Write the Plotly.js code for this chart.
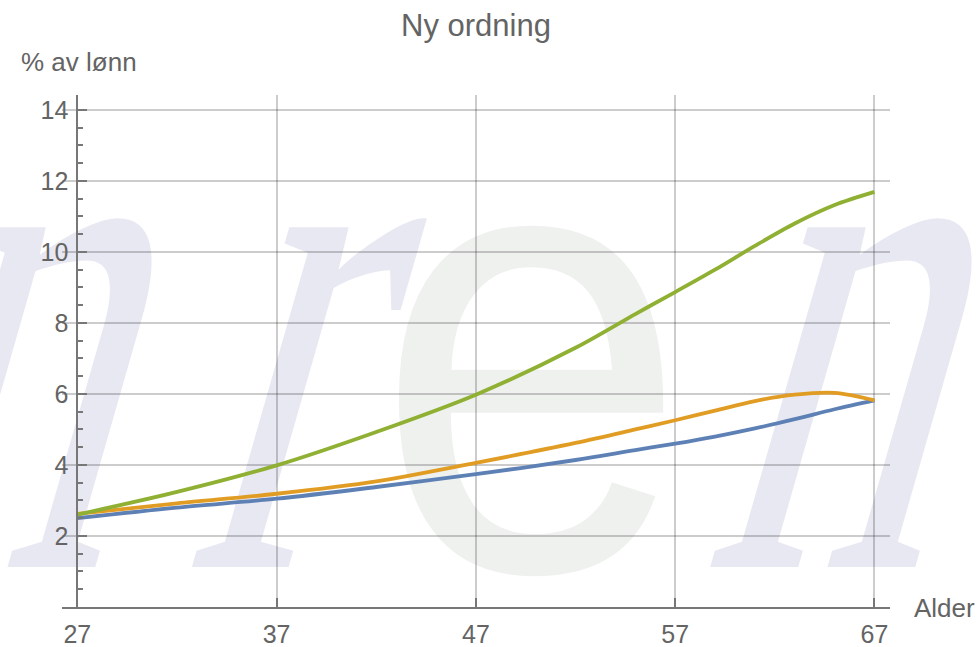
<!DOCTYPE html>
<html>
<head>
<meta charset="utf-8">
<script src="https://cdn.plot.ly/plotly-3.0.1.min.js"></script>
<style>
  html, body { margin:0; padding:0; background:#fff; }
  #wrap { position:relative; width:979px; height:647px; overflow:hidden; }
  #wm { position:absolute; left:0; top:0; z-index:0; }
  #chart { position:absolute; left:0; top:0; width:979px; height:647px; z-index:1; }
</style>
</head>
<body>
<div id="wrap">
  <svg id="wm" width="979" height="647" xmlns="http://www.w3.org/2000/svg">
    <g font-family="Liberation Serif" font-size="740" fill="#e8e8f3">
      <text transform="translate(-120,567) skewX(-16) scale(0.6,1)" x="0" y="0">n</text>
      <text transform="translate(183,567) skewX(-16) scale(0.6,1)" x="0" y="0">r</text>
      <text transform="translate(700,567) skewX(-16) scale(0.6,1)" x="0" y="0">n</text>
    </g>
    <text transform="translate(375,570) scale(0.88,1)" x="0" y="0" font-family="Liberation Sans" font-size="640" fill="#eff1ef">e</text>
  </svg>
  <div id="chart"></div>
</div>
<script>
// Data
const ages   = [27, 32, 37, 42, 47, 52, 55, 57, 59, 61, 63, 65, 67];
const blue   = [2.50, 2.80, 3.05, 3.38, 3.74, 4.14, 4.42, 4.60, 4.80, 5.03, 5.29, 5.57, 5.82];
const orange = [2.62, 2.92, 3.19, 3.54, 4.06, 4.62, 5.00, 5.26, 5.53, 5.80, 5.98, 6.03, 5.82];
const green  = [2.60, 3.24, 3.99, 4.93, 5.98, 7.30, 8.25, 8.87, 9.50, 10.17, 10.80, 11.32, 11.69];

const xTicks = [27, 37, 47, 57, 67];
const yTicks = [2, 4, 6, 8, 10, 12, 14];

const titleText = 'Ny ordning';
const xLabel = 'Alder';
const yLabel = '% av lønn';

const colors = { blue:'#5E81B5', orange:'#E19C24', green:'#8FB032' };

function mk(y, c) {
  return { x: ages, y: y, type:'scatter', mode:'lines',
           line:{ color:c, width:3.8, shape:'spline', smoothing:0.9 }, hoverinfo:'skip' };
}
const traces = [mk(blue, colors.blue), mk(orange, colors.orange), mk(green, colors.green)];

const xr = [26.23, 67.78];
const axisColor = '#777777';
const txt = '#646464';

const layout = {
  width: 979, height: 647,
  margin: { l:62, r:89, t:95, b:40, pad:0 },
  paper_bgcolor:'rgba(0,0,0,0)', plot_bgcolor:'rgba(0,0,0,0)',
  showlegend:false,
  font:{ family:'Liberation Sans, Arial, sans-serif', color:txt, size:25 },
  title:{ text:titleText, font:{ size:31, color:txt }, xref:'container', yref:'container',
          x:476/979, xanchor:'center', y:1-25/647, yanchor:'middle' },
  xaxis:{
    range:xr, tickmode:'array', tickvals:xTicks, ticktext:xTicks.map(String),
    ticks:'inside', ticklen:9, tickwidth:2, tickcolor:axisColor,
    showline:true, linecolor:axisColor, linewidth:2,
    showgrid:true, gridcolor:'rgba(0,0,0,0.2)', gridwidth:2,
    zeroline:false, tickfont:{ size:25, color:txt }, ticklabelstandoff:4
  },
  yaxis:{
    range:[0, 14.42], anchor:'free', position:(27 - xr[0])/(xr[1]-xr[0]),
    tickmode:'array', tickvals:yTicks, ticktext:yTicks.map(String),
    ticks:'inside', ticklen:9, tickwidth:2, tickcolor:axisColor,
    minor:{ tickmode:'linear', tick0:0, dtick:0.5, ticks:'inside', ticklen:5, tickwidth:2, tickcolor:axisColor, showgrid:false },
    showline:true, linecolor:axisColor, linewidth:2,
    showgrid:true, gridcolor:'rgba(0,0,0,0.2)', gridwidth:2,
    zeroline:false, tickfont:{ size:25, color:txt }, ticklabelstandoff:3
  },
  annotations:[
    { text:yLabel, xref:'paper', yref:'paper', x:(19-62)/828, y:(607-62)/512,
      xanchor:'left', yanchor:'middle', showarrow:false, font:{ size:26, color:txt } },
    { text:xLabel, xref:'paper', yref:'paper', x:(912-62)/828, y:(607-608)/512,
      xanchor:'left', yanchor:'middle', showarrow:false, font:{ size:26, color:txt } }
  ]
};

Plotly.newPlot('chart', traces, layout, { staticPlot:true, displayModeBar:false });
</script>
</body>
</html>
